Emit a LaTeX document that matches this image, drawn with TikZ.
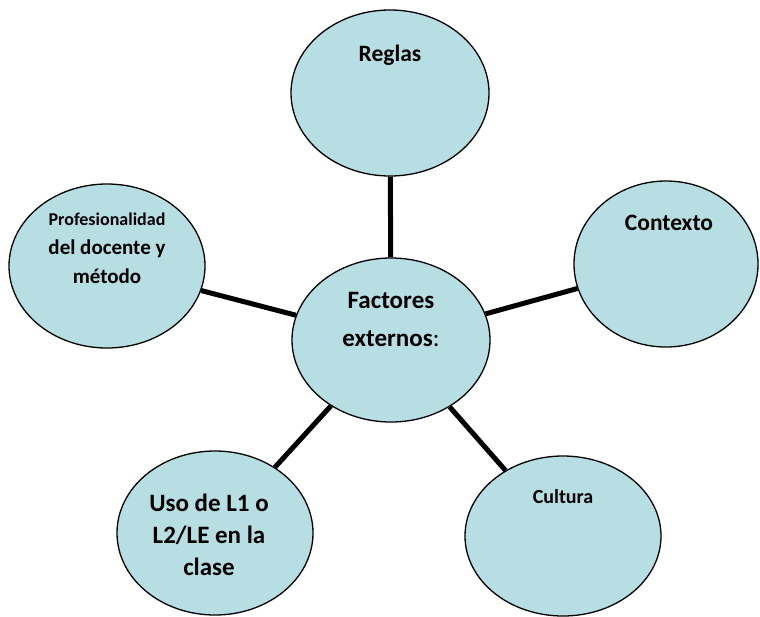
\documentclass[tikz,border=0pt]{standalone}
\usepackage{fontspec}
\setmainfont{Carlito}
\usetikzlibrary{shapes.geometric}
\definecolor{celeste}{RGB}{183,222,227}

\begin{document}
\begin{tikzpicture}[
        x=1pt, y=-1pt,
        circulo/.style={ellipse, draw=black, line width=1.3pt, fill=celeste, inner sep=0pt},
        texto/.style={align=center, inner sep=0pt},
        enlace/.style={line width=5pt}
        ]

        \useasboundingbox (0,0) rectangle (760,616);

        \node[circulo, minimum width=198pt, minimum height=164pt] (centro) at (391,340) {};
        \node[circulo, minimum width=198pt, minimum height=166pt] (reglas) at (390,93) {};
        \node[circulo, minimum width=184pt, minimum height=166pt] (contexto) at (666,264) {};
        \node[circulo, minimum width=196pt, minimum height=164pt] (profesion) at (107,266) {};
        \node[circulo, minimum width=196pt, minimum height=164pt] (uso) at (215,533) {};
        \node[circulo, minimum width=196pt, minimum height=160pt] (cultura) at (563,536) {};

        \draw[enlace] (centro) -- (reglas);
        \draw[enlace] (centro) -- (contexto);
        \draw[enlace] (centro) -- (profesion);
        \draw[enlace] (centro) -- (uso);
        \draw[enlace] (centro) -- (cultura);

        \node[texto, font=\fontsize{25}{38}\selectfont\bfseries] (centro_txt) at (391,319) {Factores\\externos{\mdseries:}};
        \node[texto, font=\fontsize{23.5}{28}\selectfont\bfseries] (reglas_txt) at (390,55) {Reglas};
        \node[texto, font=\fontsize{23.5}{28}\selectfont\bfseries] (contexto_txt) at (669,223) {Contexto};
        \node[texto, font=\fontsize{21}{29}\selectfont\bfseries] (profesion_txt) at (107,248) {{\fontsize{18}{24}\selectfont Profesionalidad}\\del docente y\\método};
        \node[texto, font=\fontsize{25}{32}\selectfont\bfseries] (uso_txt) at (209,535) {Uso de L1 o\\L2/LE en la\\clase};
        \node[texto, font=\fontsize{20}{24}\selectfont\bfseries] (cultura_txt) at (563,497) {Cultura};

    \end{tikzpicture}
\end{document}
